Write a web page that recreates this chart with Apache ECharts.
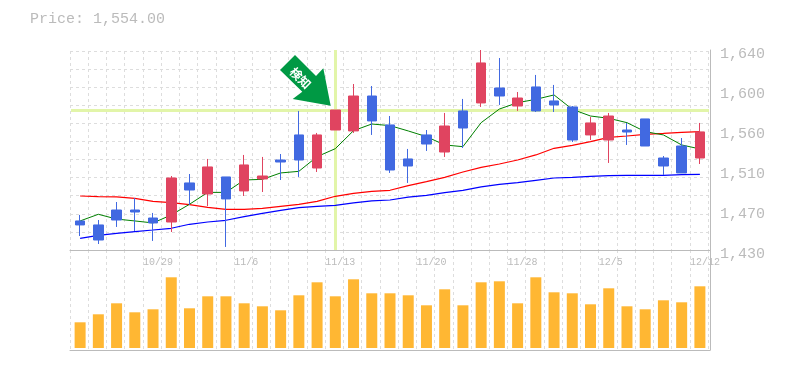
<!DOCTYPE html>
<html><head><meta charset="utf-8">
<style>html,body{margin:0;padding:0;background:#fff}#c{width:785px;height:370px}</style>
<script src="https://cdn.jsdelivr.net/npm/echarts@6/dist/echarts.min.js"></script>
</head><body><div id="c"></div>
<script>
const dates = ['10/23','10/24','10/25','10/28','10/29','10/30','10/31','11/1','11/5','11/6','11/7','11/8','11/11','11/12','11/13','11/14','11/15','11/18','11/19','11/20','11/21','11/22','11/25','11/26','11/28','11/29','12/2','12/3','12/4','12/5','12/6','12/9','12/10','12/11','12/12'];
// open, close, low, high
const candles = [
[1460.5,1456.3,1444.7,1466.8],[1456.3,1440.5,1436.3,1461.5],[1472,1461.5,1454.2,1480.4],[1472,1469.9,1450,1484.6],[1463.6,1458.4,1439.5,1468.9],
[1459.4,1505.6,1448.9,1507.7],[1500.4,1493,1477.3,1509.8],[1488.8,1517.2,1476.2,1525.6],[1506.7,1483.6,1433.2,1506.7],[1492,1519.3,1486.7,1529.8],
[1504.6,1507.7,1490.9,1527.7],[1524.5,1522.4,1503.5,1530.8],[1550.8,1524.5,1506.7,1576],[1516.1,1550.8,1511.9,1552.9],[1556,1577,1556,1577],
[1555,1591.7,1552.9,1604.3],[1591.7,1565.5,1550.8,1602.2],[1561.3,1514,1510.9,1570.7],[1525.6,1518.2,1500.4,1536.1],[1550.8,1541.3,1534,1556],
[1532.9,1560.2,1527.7,1573.9],[1576,1558.1,1537.1,1588.6],[1584.4,1626.4,1580.2,1640],[1600.1,1591.7,1582.3,1631.6],[1581.2,1589.6,1576,1595.9],
[1601.2,1576,1574.9,1613.8],[1586.5,1582.3,1574.9,1603.3],[1580.2,1545.5,1543.4,1581.2],[1550.8,1563.4,1545.5,1569.7],[1545.5,1570.7,1521.4,1573.9],
[1556,1553.9,1540.3,1563.4],[1567.6,1539.2,1539.2,1567.6],[1526.6,1518.2,1508.8,1528.7],[1539.2,1510.9,1510.9,1547.6],[1526.6,1554,1520.3,1563.4]];
const maShort = [1460.5,1467.5,1462.5,1460.5,1458.4,1466.8,1478,1490.5,1490.5,1503.5,1504.2,1510.9,1512.6,1528,1536.4,1555.3,1562.3,1560.6,1555,1549,1540.3,1538.5,1563.7,1578,1584.7,1588.2,1592.8,1577.7,1570.7,1568.3,1563.7,1554.3,1550.8,1540.3,1536.1];
const maMid = [1486.7,1486,1485.7,1484.3,1481.1,1479.7,1477.6,1474.8,1472.7,1472.7,1473.8,1475.9,1478,1481.1,1486.4,1489.5,1491.6,1492.7,1497.6,1501.8,1506.3,1511.9,1516.8,1520.3,1524.5,1529.8,1536.8,1539.9,1543.8,1548.3,1549.7,1551.5,1552.5,1553.6,1554.3];
const maLong = [1442.3,1445.4,1447.5,1449.3,1451,1452.8,1457,1459.4,1461.2,1465,1468.5,1471.7,1474.5,1475.9,1476.9,1479.4,1481.5,1482.5,1485.6,1487.4,1490.2,1492.6,1496.2,1499,1500.7,1503.2,1505.6,1506.3,1507.4,1508.1,1508.4,1508.4,1508.4,1509.1,1509.5];
const volumes = [257,337,447,357,387,707,397,517,517,447,417,377,527,657,517,687,547,547,527,427,587,427,657,667,447,707,557,547,437,597,417,387,477,457,617];
const priceTicks = {1640:'1,640',1598:'1,600',1556:'1,560',1514:'1,510',1472:'1,470',1430:'1,430'};
const signalIndex = 14, signalPrice = 1577;
const titleText = 'Price: 1,554.00';
const signalText = '検知';

const GREY='#bbbbbb', DASH='#dddddd', MONO='"Liberation Mono", monospace';
const cat = (gridIndex,extra)=>Object.assign({type:'category',gridIndex,data:dates,boundaryGap:true,axisLine:{show:false},axisTick:{show:false},axisLabel:{show:false},splitLine:{show:false}},extra||{});
const vSplit = {show:true,interval:0,lineStyle:{color:DASH,type:[3,3],width:1}};
const frameX = (gridIndex)=>({type:'value',gridIndex,min:0,max:1,axisLine:{show:true,onZero:false,lineStyle:{color:GREY,width:1}},axisTick:{show:false},axisLabel:{show:false},splitLine:{show:false}});
const frameY = (gridIndex)=>({type:'value',gridIndex,position:'right',min:0,max:1,axisLine:{show:true,onZero:false,lineStyle:{color:GREY,width:1}},axisTick:{show:false},axisLabel:{show:false},splitLine:{show:false}});

const option = {
  animation:false, backgroundColor:'#fff',
  title:{text:titleText,left:25,top:7,textStyle:{color:GREY,fontFamily:MONO,fontSize:15,fontWeight:'normal'}},
  grid:[
    {left:71,top:50,width:638,height:200},   // 0 price
    {left:71,top:248,width:638,height:100},  // 1 volume
    {left:70,top:51,width:638,height:199},   // 2 upper dashes
    {left:70,top:250,width:638,height:100},  // 3 lower dashes
    {left:70,top:50,width:640,height:200},   // 4 upper frame
    {left:70,top:250,width:640,height:100},  // 5 lower frame
    {left:70,top:54,width:640,height:200},   // 6 price tick labels
    {left:61,top:250,width:638,height:1}     // 7 date labels
  ],
  xAxis:[
    cat(0,{show:false}), cat(1,{show:false}),
    cat(2,{splitLine:vSplit}), cat(3,{splitLine:vSplit}),
    frameX(4), frameX(5),
    {type:'value',gridIndex:6,min:0,max:1,show:false},
    cat(7,{axisLabel:{show:true,align:'left',margin:6,color:GREY,fontFamily:MONO,fontSize:10,interval:(i)=>i%5===4}})
  ],
  yAxis:[
    {type:'value',gridIndex:0,min:1430,max:1640,show:false},
    {type:'value',gridIndex:1,min:0,max:1000,show:false},
    {type:'value',gridIndex:2,min:0,max:11,interval:1,axisLine:{show:false},axisTick:{show:false},axisLabel:{show:false},splitLine:{show:true,lineStyle:{color:DASH,type:[3,3],width:1}}},
    {type:'value',gridIndex:3,show:false},
    frameY(4), frameY(5),
    {type:'value',gridIndex:6,position:'right',min:1430,max:1640,interval:42,axisLine:{show:false},axisTick:{show:false},splitLine:{show:false},
      axisLabel:{show:true,margin:10,color:GREY,fontFamily:MONO,fontSize:15,formatter:(v)=>priceTicks[Math.round(v)]||''}},
    {type:'value',gridIndex:7,show:false}
  ],
  series:[
    {type:'line',name:'crosshair',xAxisIndex:0,yAxisIndex:0,data:[],z:1,silent:true,
      markLine:{z:1,silent:true,symbol:'none',label:{show:false},animation:false,lineStyle:{color:'#e2f5a9',width:3,type:'solid'},
        data:[{xAxis:signalIndex},{yAxis:signalPrice}]}},
    {type:'line',xAxisIndex:0,yAxisIndex:0,data:maLong,symbol:'none',z:2,lineStyle:{color:'#0000ff',width:1.2}},
    {type:'line',xAxisIndex:0,yAxisIndex:0,data:maMid,symbol:'none',z:2,lineStyle:{color:'#ff0000',width:1.2}},
    {type:'line',xAxisIndex:0,yAxisIndex:0,data:maShort,symbol:'none',z:2,lineStyle:{color:'#008000',width:1}},
    {type:'candlestick',xAxisIndex:0,yAxisIndex:0,data:candles,barWidth:10,z:3,clip:false,
      itemStyle:{color:'#e04460',color0:'#4169e1',borderColor:'#e04460',borderColor0:'#4169e1',borderWidth:1}},
    {type:'bar',xAxisIndex:1,yAxisIndex:1,data:volumes,barWidth:11,z:2,itemStyle:{color:'#ffb733'}}
  ],
  graphic:[
    {type:'polygon',z:100,shape:{points:[[295,55],[280,70],[302.3,91.7],[292.7,99],[330.7,105.7],[323.3,68.3],[316,76]]},style:{fill:'#009944'}},
    {type:'text',z:101,x:300.5,y:78,rotation:-Math.PI/4,style:{text:signalText,fill:'#fff',font:'bold 12px "Noto Sans CJK JP"',align:'center',verticalAlign:'middle'}}
  ]
};
const chart = echarts.init(document.getElementById('c'),null,{renderer:'canvas'});
chart.setOption(option);
</script></body></html>
